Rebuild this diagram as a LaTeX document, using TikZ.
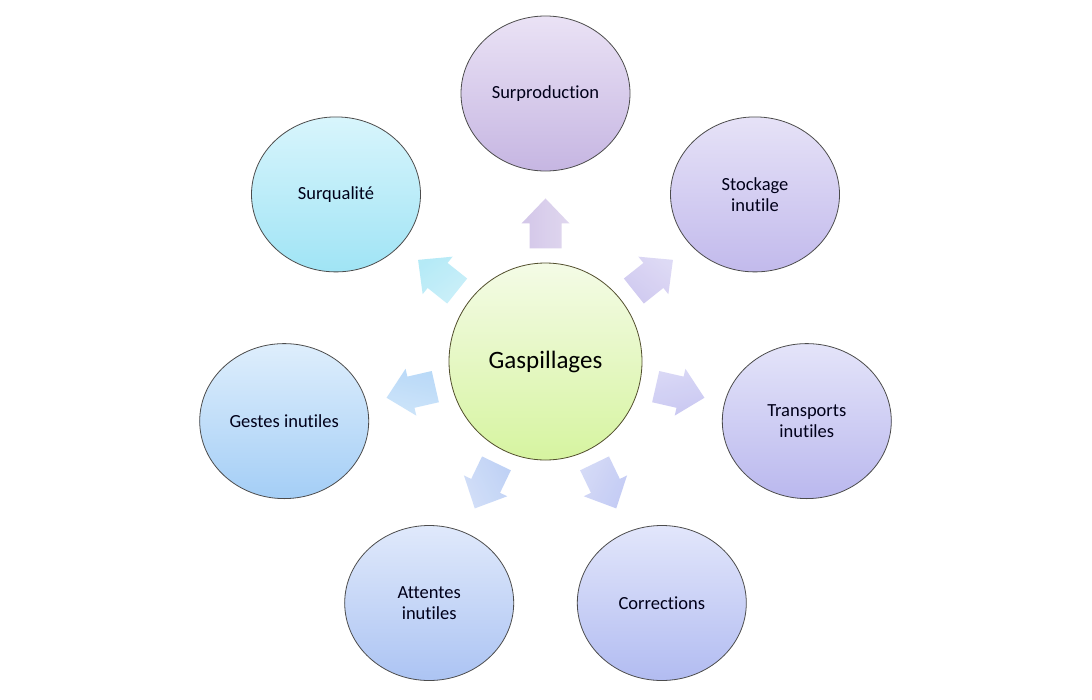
\documentclass[tikz,border=0pt]{standalone}
\usepackage{fontspec}
\setmainfont{Carlito}[Ligatures={NoCommon,NoContextual}]
\usetikzlibrary{shapes.geometric,calc}
\definecolor{spT}{RGB}{234,226,245}\definecolor{spB}{RGB}{198,182,226}
\definecolor{stT}{RGB}{230,226,247}\definecolor{stB}{RGB}{194,186,236}
\definecolor{trT}{RGB}{228,228,249}\definecolor{trB}{RGB}{186,184,238}
\definecolor{coT}{RGB}{226,230,251}\definecolor{coB}{RGB}{178,188,241}
\definecolor{atT}{RGB}{224,233,251}\definecolor{atB}{RGB}{172,196,243}
\definecolor{geT}{RGB}{222,238,252}\definecolor{geB}{RGB}{164,206,246}
\definecolor{sqT}{RGB}{216,245,252}\definecolor{sqB}{RGB}{160,228,245}
\definecolor{gaT}{RGB}{244,251,230}\definecolor{gaB}{RGB}{214,244,160}
\tikzset{
  outer/.style={ellipse, draw=black!70, line width=0.8pt, minimum width=169pt,
    minimum height=155pt, inner sep=0pt, align=center, text=black!90!blue,
    font=\fontsize{18.5}{20.5}\selectfont},
  hub/.style={ellipse, draw=black!55!olive, line width=0.8pt, minimum width=193pt,
    minimum height=197pt, inner sep=0pt, top color=gaT, bottom color=gaB,
    font=\fontsize{25}{30}\selectfont},
  blockarr/.style={draw=none, fill opacity=0.9}
}
\newcommand{\blockarrow}[4]{%
  \path[blockarr, shift={(#1)}, rotate=#2, top color=#3!60!white, bottom color=#4!85!white, shading angle=-#2]
    (-25,-16) -- (0,-16) -- (0,-24) -- (25,0) -- (0,24) -- (0,16) -- (-25,16) -- cycle;}
\begin{document}
\begin{tikzpicture}[x=1pt,y=-1pt]
\useasboundingbox[fill=white] (0,0) rectangle (1092,699);
\node[hub] (G) at (545.5,361.5) {Gaspillages};
\node[outer, top color=spT, bottom color=spB] (n1) at (545.5,93.5) {Surproduction};
\node[outer, top color=stT, bottom color=stB] (n2) at (755.0,194.4) {Stockage\\inutile};
\node[outer, top color=trT, bottom color=trB] (n3) at (806.8,421.1) {Transports\\inutiles};
\node[outer, top color=coT, bottom color=coB] (n4) at (661.8,603.0) {Corrections};
\node[outer, top color=atT, bottom color=atB] (n5) at (429.2,603.0) {Attentes\\inutiles};
\node[outer, top color=geT, bottom color=geB] (n6) at (284.2,421.1) {Gestes inutiles};
\node[outer, top color=sqT, bottom color=sqB] (n7) at (336.0,194.4) {Surqualité};
\foreach \i in {1,...,7} {\coordinate (a\i) at ($(G)!0.515!(n\i)$);}
\blockarrow{a1}{90}{spB}{spB}
\blockarrow{a2}{38.57}{stB}{stB}
\blockarrow{a3}{-12.86}{trB}{trB}
\blockarrow{a4}{-64.29}{coB}{coB}
\blockarrow{a5}{-115.71}{atB}{atB}
\blockarrow{a6}{-167.14}{geB}{geB}
\blockarrow{a7}{141.43}{sqB}{sqB}
\end{tikzpicture}
\end{document}
